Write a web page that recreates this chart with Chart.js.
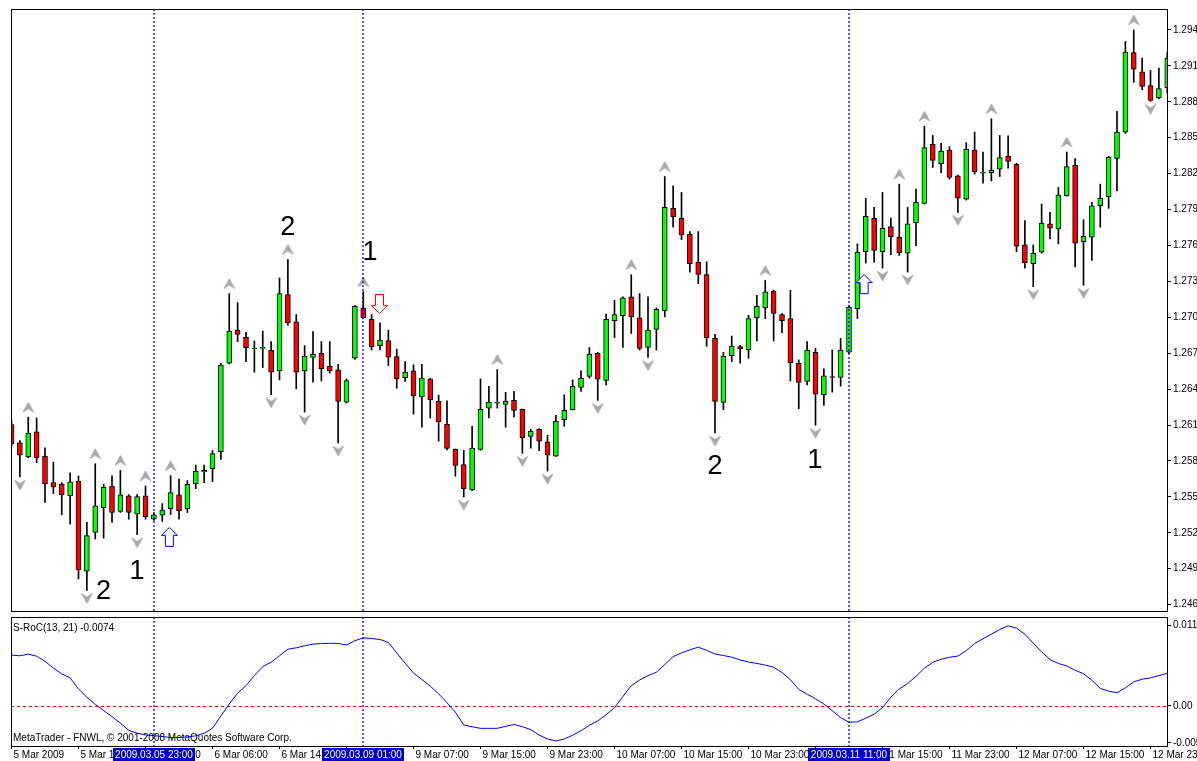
<!DOCTYPE html>
<html><head><meta charset="utf-8"><title>FNWL H1 S-RoC</title>
<script src="https://cdn.jsdelivr.net/npm/chart.js@4.4.1/dist/chart.umd.min.js"></script>
<style>
html,body{margin:0;padding:0;background:#fff;overflow:hidden}
#wrap{position:relative;width:1197px;height:761px;background:#fff}
canvas{position:absolute;left:0;display:block}
</style></head><body><div id="wrap">
<canvas id="main" width="1197" height="617" style="top:0;width:1197px;height:617px"></canvas>
<canvas id="sub" width="1197" height="144" style="top:617px;width:1197px;height:144px"></canvas>
</div>
<script>
// ---------------- DATA ----------------
const opens = [1.26103,1.25951,1.25833,1.26043,1.25841,1.25619,1.25605,1.25508,1.25633,1.24879,
1.25203,1.25411,1.25588,1.25378,1.25508,1.25356,1.25508,1.25314,1.25347,1.25401,
1.25517,1.25400,1.25609,1.25708,1.25735,1.25877,1.26616,1.26893,1.26832,1.26735,
1.26741,1.26724,1.26552,1.27190,1.26963,1.26552,1.26664,1.26699,1.26591,1.26561,
1.26292,1.26658,1.27079,1.26984,1.26763,1.26805,1.26672,1.26496,1.26552,1.26336,
1.26483,1.26300,1.26109,1.25897,1.25769,1.25558,1.25896,1.26241,1.26282,1.26273,
1.26307,1.26231,1.26005,1.26065,1.25960,1.25841,1.26145,1.26228,1.26414,1.26506,
1.26699,1.26472,1.26971,1.27013,1.27170,1.26996,1.26749,1.26899,1.27054,1.27910,
1.27827,1.27696,1.27461,1.27356,1.26824,1.26290,1.26680,1.26755,1.26727,1.26996,
1.27079,1.27220,1.27023,1.26990,1.26616,1.26464,1.26708,1.26353,1.26497,1.26497,
1.26708,1.27073,1.27549,1.27827,1.27549,1.27757,1.27669,1.27536,1.27788,1.27952,
1.28444,1.28284,1.28397,1.28181,1.27987,1.28397,1.28203,1.28209,1.28237,1.28347,
1.28278,1.27605,1.27447,1.27544,1.27780,1.27738,1.28015,1.28270,1.27632,1.27669,
1.27932,1.28006,1.28326,1.28547,1.29211,1.29051,1.28935,1.28832,1.28916];
const highs = [1.26145,1.25971,1.26165,1.26159,1.25910,1.25791,1.25619,1.25702,1.25675,1.25287,
1.25777,1.25605,1.25675,1.25721,1.25519,1.25519,1.25592,1.25370,1.25444,1.25677,
1.25648,1.25636,1.25766,1.25766,1.25887,1.26616,1.27198,1.27123,1.26874,1.26802,
1.26885,1.26797,1.27328,1.27483,1.27023,1.26763,1.26880,1.26797,1.26797,1.26608,
1.26486,1.27098,1.27214,1.27023,1.26954,1.26893,1.26735,1.26630,1.26604,1.26608,
1.26492,1.26348,1.26303,1.25901,1.25889,1.26090,1.26485,1.26423,1.26564,1.26373,
1.26381,1.26234,1.26065,1.26068,1.26015,1.26182,1.26353,1.26477,1.26552,1.26747,
1.26708,1.27026,1.27142,1.27170,1.27356,1.27198,1.27170,1.27079,1.28176,1.28098,
1.28043,1.27716,1.27716,1.27464,1.26857,1.26708,1.26843,1.26766,1.27017,1.27184,
1.27308,1.27227,1.27032,1.27225,1.26644,1.26797,1.26741,1.26569,1.26727,1.26824,
1.27098,1.27613,1.27993,1.27918,1.28043,1.27829,1.28112,1.27918,1.28070,1.28596,
1.28519,1.28453,1.28425,1.28187,1.28459,1.28547,1.28380,1.28658,1.28519,1.28515,
1.28287,1.27807,1.27605,1.27946,1.27877,1.28085,1.28380,1.28326,1.27815,1.27960,
1.28112,1.28345,1.28721,1.29303,1.29400,1.29165,1.29062,1.29082,1.29211];
const lows = [1.25926,1.25666,1.25827,1.25785,1.25453,1.25528,1.25351,1.25272,1.24815,1.24719,
1.25148,1.25156,1.25287,1.25370,1.25314,1.25184,1.25314,1.25303,1.25295,1.25353,
1.25314,1.25370,1.25569,1.25619,1.25627,1.25813,1.26610,1.26797,1.26630,1.26541,
1.26580,1.26353,1.26477,1.26934,1.26403,1.26209,1.26458,1.26469,1.26533,1.25951,
1.26284,1.26649,1.26990,1.26727,1.26727,1.26597,1.26408,1.26464,1.26192,1.26082,
1.26159,1.25966,1.25893,1.25673,1.25499,1.25553,1.25889,1.26159,1.26242,1.26082,
1.26169,1.25864,1.25907,1.25887,1.25716,1.25838,1.26090,1.26226,1.26381,1.26492,
1.26306,1.26436,1.26830,1.26749,1.26865,1.26727,1.26664,1.26727,1.27004,1.27752,
1.27649,1.27378,1.27281,1.26757,1.26034,1.26228,1.26630,1.26616,1.26658,1.26802,
1.26990,1.26802,1.26871,1.26469,1.26236,1.26436,1.26098,1.26265,1.26375,1.26425,
1.26699,1.26990,1.27453,1.27461,1.27411,1.27524,1.27516,1.27378,1.27599,1.27946,
1.28251,1.28209,1.28154,1.27877,1.27979,1.28195,1.28120,1.28139,1.28176,1.28245,
1.27549,1.27411,1.27256,1.27536,1.27655,1.27613,1.28012,1.27420,1.27267,1.27475,
1.27752,1.27910,1.28056,1.28536,1.28962,1.28901,1.28804,1.28824,1.28874];
const closes = [1.25943,1.25849,1.26034,1.25827,1.25611,1.25583,1.25517,1.25625,1.24890,1.25176,
1.25425,1.25583,1.25370,1.25517,1.25370,1.25503,1.25334,1.25351,1.25389,1.25536,
1.25386,1.25605,1.25716,1.25721,1.25862,1.26602,1.26885,1.26857,1.26747,1.26738,
1.26741,1.26541,1.27198,1.26954,1.26541,1.26677,1.26691,1.26569,1.26552,1.26298,
1.26472,1.27092,1.26996,1.26755,1.26810,1.26666,1.26486,1.26543,1.26344,1.26492,
1.26311,1.26126,1.25904,1.25763,1.25569,1.25907,1.26231,1.26292,1.26282,1.26298,
1.26223,1.25995,1.26049,1.25966,1.25849,1.26132,1.26223,1.26423,1.26492,1.26691,
1.26483,1.26984,1.27023,1.27162,1.27004,1.26741,1.26893,1.27067,1.27918,1.27840,
1.27688,1.27447,1.27358,1.26830,1.26298,1.26677,1.26760,1.26735,1.26990,1.27092,
1.27212,1.27032,1.26971,1.26622,1.26456,1.26727,1.26359,1.26511,1.26497,1.26727,
1.27084,1.27544,1.27844,1.27558,1.27744,1.27674,1.27539,1.27780,1.27960,1.28417,
1.28311,1.28389,1.28168,1.27996,1.28403,1.28214,1.28203,1.28228,1.28334,1.28301,
1.27594,1.27456,1.27536,1.27788,1.27744,1.28021,1.28259,1.27619,1.27677,1.27932,
1.27996,1.28339,1.28547,1.29215,1.29073,1.28929,1.28812,1.28910,1.29165];
const sroc = [0.00688,0.00679,0.00702,0.00673,0.00604,0.00513,0.00435,0.00380,0.00231,0.00119,
0.00023,-0.00061,-0.00145,-0.00231,-0.00330,-0.00368,-0.00392,-0.00402,-0.00412,-0.00426,
-0.00425,-0.00418,-0.00403,-0.00369,-0.00302,-0.00134,0.00027,0.00173,0.00275,0.00412,
0.00533,0.00592,0.00680,0.00768,0.00787,0.00814,0.00837,0.00844,0.00848,0.00845,
0.00825,0.00883,0.00921,0.00913,0.00899,0.00859,0.00717,0.00579,0.00446,0.00358,
0.00269,0.00164,0.00045,-0.00084,-0.00257,-0.00281,-0.00302,-0.00302,-0.00302,-0.00275,
-0.00250,-0.00280,-0.00319,-0.00394,-0.00446,-0.00473,-0.00446,-0.00396,-0.00335,-0.00260,
-0.00203,-0.00118,-0.00024,0.00127,0.00275,0.00352,0.00410,0.00457,0.00561,0.00668,
0.00718,0.00759,0.00796,0.00753,0.00703,0.00683,0.00660,0.00623,0.00594,0.00576,
0.00553,0.00525,0.00452,0.00356,0.00224,0.00160,0.00097,0.00026,-0.00064,-0.00157,
-0.00220,-0.00214,-0.00165,-0.00111,-0.00022,0.00119,0.00230,0.00304,0.00402,0.00510,
0.00591,0.00633,0.00659,0.00675,0.00749,0.00845,0.00909,0.00971,0.01034,0.01085,
0.01052,0.00971,0.00849,0.00732,0.00627,0.00575,0.00542,0.00483,0.00437,0.00348,
0.00238,0.00200,0.00180,0.00245,0.00327,0.00362,0.00380,0.00411,0.00442];

const upFractals = [2,10,13,16,19,26,33,42,58,74,78,90,106,109,117,126,134];
const downFractals = [1,9,15,31,35,39,54,61,64,70,76,84,96,104,107,113,122,128,136];

const buyBars = [18.85, 101.8];
const buyPrices = [1.25162, 1.27273];
const sellBars = [43.94];
const sellPrices = [1.27106];

const waveTexts = ['2','1','2','1','2','1'];
const waveBars = [10.99, 14.99, 33.0, 42.8, 84.0, 95.94];
const wavePrices = [1.24713, 1.24879, 1.27746, 1.27539, 1.25752, 1.25806];

const vlineBars = [17, 42, 100];
const vlineLabels = ['2009.03.05 23:00', '2009.03.09 01:00', '2009.03.11 11:00'];

const timeTickBars = [0,8,16,24,32,40,48,56,64,72,80,88,96,104,112,120,128,136];
const timeTickLabels = ['5 Mar 2009','5 Mar 14:00','5 Mar 22:00','6 Mar 06:00','6 Mar 14:00','6 Mar 22:00',
'9 Mar 07:00','9 Mar 15:00','9 Mar 23:00','10 Mar 07:00','10 Mar 15:00','10 Mar 23:00',
'11 Mar 07:00','11 Mar 15:00','11 Mar 23:00','12 Mar 07:00','12 Mar 15:00','12 Mar 23:00'];

const priceTicks = [1.294,1.291,1.288,1.285,1.282,1.279,1.276,1.273,1.270,1.267,1.264,1.261,1.258,1.255,1.252,1.249,1.246];
const priceTickLabels = ['1.294','1.291','1.288','1.285','1.282','1.279','1.276','1.273','1.270','1.267','1.264','1.261','1.258','1.255','1.252','1.249','1.246'];

const oscTicks = [0.010953, 0, -0.005];
const oscTickLabels = ['0.0119', '0.00', '-0.005'];

const indicatorTitle = 'S-RoC(13, 21) -0.0074';
const copyrightText = 'MetaTrader - FNWL, \u00A9 2001-2008 MetaQuotes Software Corp.';

// ---------------- STYLE / HELPERS ----------------
const FONT = '"Liberation Sans", Arial, sans-serif';
Chart.defaults.font.family = FONT;
Chart.defaults.font.size = 10;
Chart.defaults.color = '#000';
const X_MIN = -0.06, X_MAX = 137.97;

function fractalImg(up) {
  const c = document.createElement('canvas');
  c.width = 13; c.height = up ? 32 : 28;
  const g = c.getContext('2d');
  const cy = up ? 6 : 22;
  g.beginPath();
  if (up) { g.moveTo(6.5, cy - 5); g.lineTo(12, cy + 5); g.lineTo(6.5, cy + 1.5); g.lineTo(1, cy + 5); }
  else { g.moveTo(6.5, cy + 5); g.lineTo(12, cy - 5); g.lineTo(6.5, cy - 1.5); g.lineTo(1, cy - 5); }
  g.closePath();
  g.fillStyle = '#a9a9a9'; g.fill();
  g.strokeStyle = '#9a9a9a'; g.lineWidth = 0.6; g.stroke();
  return c;
}
function signalImg(up, color) {
  const c = document.createElement('canvas');
  c.width = 17; c.height = 21;
  const g = c.getContext('2d');
  const pts = [[4.5,19.5],[4.5,8.5],[0.5,8.5],[8.5,0.5],[16.5,8.5],[12.5,8.5],[12.5,19.5]];
  g.beginPath();
  pts.forEach(([x, y], k) => { const yy = up ? y : 20 - y; if (k) g.lineTo(x, yy); else g.moveTo(x, yy); });
  g.closePath();
  g.fillStyle = '#fff'; g.fill();
  g.strokeStyle = color; g.lineWidth = 1; g.stroke();
  return c;
}

const paneBorder = {
  id: 'paneBorder',
  afterDraw(chart) {
    const { ctx, chartArea: a } = chart;
    ctx.save();
    ctx.strokeStyle = '#000'; ctx.lineWidth = 1;
    ctx.strokeRect(a.left + 0.5, a.top + 0.5, a.right - a.left, a.bottom - a.top);
    ctx.restore();
  }
};
const vlinePlugin = {
  id: 'vlines',
  afterDatasetsDraw(chart) {
    const { ctx, chartArea: a, scales: { x } } = chart;
    ctx.save();
    ctx.strokeStyle = '#0000ff'; ctx.lineWidth = 1.3; ctx.setLineDash([2, 2]);
    vlineBars.forEach(b => {
      const px = Math.round(x.getPixelForValue(b));
      ctx.beginPath(); ctx.moveTo(px, a.top); ctx.lineTo(px, a.bottom); ctx.stroke();
    });
    ctx.restore();
  }
};
const wavePlugin = {
  id: 'waves',
  afterDatasetsDraw(chart) {
    const { ctx, scales: { x, y } } = chart;
    ctx.save();
    ctx.font = '27px ' + FONT; ctx.fillStyle = '#000';
    ctx.textAlign = 'center'; ctx.textBaseline = 'middle';
    waveTexts.forEach((t, k) => ctx.fillText(t, x.getPixelForValue(waveBars[k]), y.getPixelForValue(wavePrices[k])));
    ctx.restore();
  }
};
const zeroLine = {
  id: 'zeroLine',
  beforeDatasetsDraw(chart) {
    const { ctx, chartArea: a, scales: { y } } = chart;
    const py = Math.round(y.getPixelForValue(0)) + 0.5;
    ctx.save();
    ctx.strokeStyle = '#ff0000'; ctx.lineWidth = 1; ctx.setLineDash([3, 3]);
    ctx.beginPath(); ctx.moveTo(a.left, py); ctx.lineTo(a.right, py); ctx.stroke();
    ctx.restore();
  }
};
const subTexts = {
  id: 'subTexts',
  afterDraw(chart) {
    const { ctx, chartArea: a, scales: { x } } = chart;
    ctx.save();
    ctx.font = '10px ' + FONT; ctx.fillStyle = '#000';
    ctx.textAlign = 'left'; ctx.textBaseline = 'middle';
    ctx.fillText(indicatorTitle, a.left + 2, a.top + 11);
    ctx.fillText(copyrightText, a.left + 2, a.bottom - 8);
    ctx.textAlign = 'center';
    vlineBars.forEach((b, k) => {
      const px = Math.round(x.getPixelForValue(b));
      ctx.fillStyle = '#0000c8';
      ctx.fillRect(px - 41, a.bottom + 2, 82, chart.height - a.bottom - 2);
      ctx.fillStyle = '#fff';
      ctx.fillText(vlineLabels[k], px, a.bottom + 9);
    });
    ctx.restore();
  }
};

// ---------------- MAIN PRICE CHART ----------------
const bodyData = opens.map((o, i) => ({ x: i, y: [o, closes[i]] }));
const wickData = lows.map((l, i) => ({ x: i, y: [l, highs[i]] }));

new Chart(document.getElementById('main'), {
  type: 'bar',
  data: {
    datasets: [
      { type: 'scatter', data: upFractals.map(i => ({ x: i, y: highs[i] })), pointStyle: fractalImg(true), pointRadius: 5, order: -2 },
      { type: 'scatter', data: downFractals.map(i => ({ x: i, y: lows[i] })), pointStyle: fractalImg(false), pointRadius: 5, order: -2 },
      { type: 'scatter', data: buyBars.map((b, k) => ({ x: b, y: buyPrices[k] })), pointStyle: signalImg(true, '#0000ff'), pointRadius: 5, order: -2 },
      { type: 'scatter', data: sellBars.map((b, k) => ({ x: b, y: sellPrices[k] })), pointStyle: signalImg(false, '#ff0000'), pointRadius: 5, order: -2 },
      { label: 'body', data: bodyData, grouped: false, barThickness: 5, minBarLength: 1,
        backgroundColor: c => (closes[c.dataIndex] >= opens[c.dataIndex] ? '#00ff00' : '#ff0000'),
        borderColor: '#000', borderWidth: 1, borderSkipped: false, order: 0 },
      { label: 'wick', data: wickData, grouped: false, barThickness: 1, backgroundColor: '#000', borderWidth: 0, order: 1 }
    ]
  },
  options: {
    responsive: false, animation: false, events: [],
    layout: { padding: { left: 11, top: 9, right: 0, bottom: 3 } },
    plugins: { legend: { display: false }, tooltip: { enabled: false } },
    scales: {
      x: { type: 'linear', min: X_MIN, max: X_MAX, offset: false, display: false },
      y: {
        type: 'linear', position: 'right', min: 1.24547, max: 1.29575, beginAtZero: false,
        afterBuildTicks: s => { s.ticks = priceTicks.map(v => ({ value: v })); },
        afterFit: s => { s.width = 30; s.paddingTop = 0; s.paddingBottom = 0; },
        ticks: { callback: (v, i) => priceTickLabels[i], autoSkip: false, padding: 2, color: '#000', font: { size: 10 } },
        grid: { drawOnChartArea: false, drawTicks: true, tickLength: 4, color: '#000' },
        border: { display: true, color: '#000' }
      }
    }
  },
  plugins: [vlinePlugin, wavePlugin, paneBorder]
});

// ---------------- S-RoC SUB CHART ----------------
new Chart(document.getElementById('sub'), {
  type: 'line',
  data: { datasets: [{ data: sroc.map((v, i) => ({ x: i, y: v })), borderColor: '#0000ff', borderWidth: 1, pointRadius: 0, tension: 0 }] },
  options: {
    responsive: false, animation: false, events: [],
    layout: { padding: { left: 11, top: 0, right: 0, bottom: 0 } },
    plugins: { legend: { display: false }, tooltip: { enabled: false } },
    scales: {
      x: {
        type: 'linear', min: X_MIN, max: X_MAX, offset: false,
        afterBuildTicks: s => { s.ticks = timeTickBars.map(v => ({ value: v })); },
        afterFit: s => { s.height = 15; s.paddingLeft = 0; s.paddingRight = 0; },
        ticks: { callback: (v, i) => timeTickLabels[i], align: 'start', maxRotation: 0, autoSkip: false, padding: 0, labelOffset: 2, color: '#000', font: { size: 10 } },
        grid: { drawOnChartArea: false, drawTicks: true, tickLength: 3, color: '#000' },
        border: { display: true, color: '#000' }
      },
      y: {
        type: 'linear', position: 'right', min: -0.005409, max: 0.012035,
        afterBuildTicks: s => { s.ticks = oscTicks.map(v => ({ value: v })); },
        afterFit: s => { s.width = 30; s.paddingTop = 0; s.paddingBottom = 0; },
        ticks: { callback: (v, i) => oscTickLabels[i], autoSkip: false, padding: 2, color: '#000', font: { size: 10 } },
        grid: { drawOnChartArea: false, drawTicks: true, tickLength: 4, color: '#000' },
        border: { display: true, color: '#000' }
      }
    }
  },
  plugins: [zeroLine, vlinePlugin, paneBorder, subTexts]
});
</script></body></html>
